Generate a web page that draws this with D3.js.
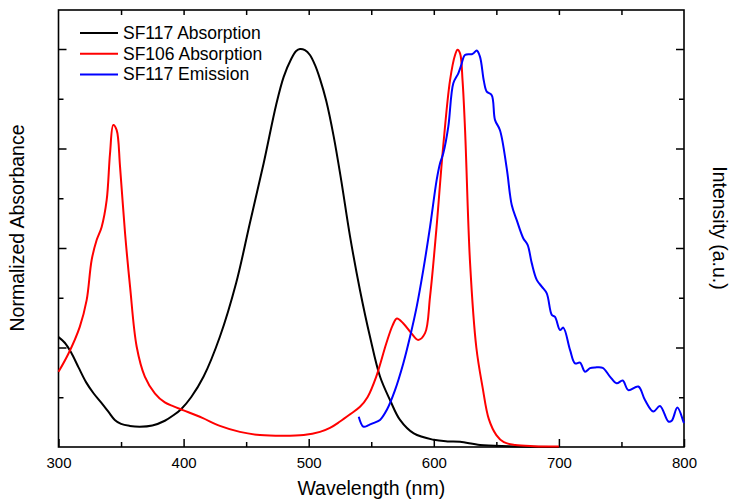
<!DOCTYPE html>
<html>
<head>
<meta charset="utf-8">
<script src="https://cdn.jsdelivr.net/npm/d3@7"></script>
<style>
  html, body { margin: 0; padding: 0; background: #fff; }
  svg { display: block; font-family: "Liberation Sans", Arial, sans-serif; }
  .tick line { stroke: #000; stroke-width: 1.5; }
</style>
</head>
<body>
<svg id="chart" width="734" height="499"></svg>
<script>
// Wavelength grid of tick labels (nm)
const xMajorTicks = [300, 400, 500, 600, 700, 800];
const xMinorTicks = [350, 450, 550, 650, 750];
const yMajorTicks = [0.25, 0.5, 0.75, 1.0];
const yMinorTicks = [0.125, 0.375, 0.625, 0.875];

// SF117 absorption spectrum: wavelength (nm), normalized absorbance
const sf117AbsWl = [300, 305, 310, 316, 322, 328, 334, 340, 345, 350, 357, 365, 375, 385, 392, 398, 406, 416, 429, 442, 453, 464, 474, 480, 486, 490, 493, 497, 501, 505, 509, 514, 520, 526, 533, 541, 549, 557, 565, 573, 584, 600, 611, 621, 637, 660, 700];
const sf117AbsVal = [0.276, 0.262, 0.238, 0.200, 0.163, 0.135, 0.112, 0.088, 0.068, 0.058, 0.053, 0.051, 0.054, 0.066, 0.080, 0.095, 0.125, 0.177, 0.277, 0.412, 0.563, 0.713, 0.86, 0.93, 0.975, 0.995, 1.0, 0.997, 0.985, 0.96, 0.925, 0.87, 0.78, 0.67, 0.53, 0.394, 0.277, 0.177, 0.118, 0.068, 0.034, 0.018, 0.014, 0.013, 0.005, 0.002, 0.0];

// SF106 absorption spectrum
const sf106AbsWl = [300, 308, 317, 322.5, 326.5, 330.5, 334.5, 338.5, 341.2, 343.8, 346.5, 349.2, 353.2, 357.2, 362.5, 369, 377, 385, 392, 400, 415, 429, 445, 461, 480, 496, 509, 517, 525, 533, 541, 547, 554, 562, 567, 570.5, 575.5, 582, 587.5, 593, 597, 602, 607.5, 613, 617, 619, 621, 623, 625, 629, 634, 639, 644, 650, 656, 665, 680, 700];
const sf106AbsVal = [0.189, 0.235, 0.302, 0.369, 0.47, 0.52, 0.553, 0.62, 0.738, 0.809, 0.796, 0.704, 0.537, 0.403, 0.252, 0.177, 0.135, 0.112, 0.102, 0.092, 0.073, 0.053, 0.038, 0.030, 0.028, 0.030, 0.038, 0.048, 0.064, 0.082, 0.101, 0.125, 0.177, 0.26, 0.305, 0.323, 0.311, 0.286, 0.269, 0.286, 0.378, 0.545, 0.755, 0.922, 0.985, 0.998, 0.989, 0.92, 0.796, 0.462, 0.25, 0.15, 0.07, 0.03, 0.012, 0.005, 0.002, 0.001];

// SF117 emission spectrum (intensity, right axis)
const sf117EmWl = [540, 543.7, 548, 551.6, 557, 562.4, 569, 575.6, 581, 586.3, 591.6, 597, 602.3, 605, 607.6, 611.6, 615.6, 619.6, 622, 624.9, 630.3, 632, 634.3, 636.9, 640, 642.3, 646.3, 648.9, 652.9, 658.3, 662.3, 666.3, 671.6, 675, 678.3, 682.3, 686.3, 690.3, 694.3, 696.9, 700.9, 703.5, 708.9, 712.9, 716.9, 720.9, 724.9, 729, 735, 740.8, 746.2, 751, 755.5, 763.5, 768.8, 775.5, 780.8, 787.5, 790.2, 794.7, 799.5, 800];
const sf117EmVal = [0.076, 0.051, 0.055, 0.060, 0.068, 0.093, 0.143, 0.210, 0.277, 0.352, 0.445, 0.553, 0.671, 0.713, 0.738, 0.805, 0.914, 0.939, 0.96, 0.985, 0.987, 0.99, 0.996, 0.981, 0.92, 0.893, 0.884, 0.822, 0.796, 0.70, 0.608, 0.570, 0.524, 0.508, 0.462, 0.420, 0.403, 0.386, 0.332, 0.327, 0.294, 0.300, 0.244, 0.210, 0.212, 0.189, 0.198, 0.200, 0.199, 0.177, 0.160, 0.167, 0.143, 0.152, 0.118, 0.089, 0.103, 0.064, 0.066, 0.099, 0.064, 0.06];

const seriesNames = ["SF117 Absorption", "SF106 Absorption", "SF117 Emission"];
const seriesColors = ["#000000", "#ff0000", "#0000ff"];

const svg = d3.select("#chart");
const plotL = 58.5, plotR = 684, plotT = 10, plotB = 447;

const x = d3.scaleLinear().domain([300, 800]).range([plotL, plotR]);
const yAbs = d3.scaleLinear().domain([0, 1.098]).range([plotB, plotT]);
const yEm = d3.scaleLinear().domain([0, 1.098]).range([plotB, plotT]);

// Axes (ticks point inward)
svg.append("g").attr("transform", `translate(0,${plotB})`)
  .call(d3.axisBottom(x).tickValues(xMajorTicks).tickSizeInner(-8).tickSizeOuter(0).tickPadding(10).tickFormat(d3.format("d")))
  .call(g => g.select(".domain").remove())
  .call(g => g.selectAll("text").attr("font-size", 15).attr("fill", "#000").attr("font-family", "Liberation Sans, Arial, sans-serif"));
svg.append("g").attr("transform", `translate(0,${plotB})`)
  .call(d3.axisBottom(x).tickValues(xMinorTicks).tickSizeInner(-5).tickSizeOuter(0).tickFormat(""))
  .call(g => g.select(".domain").remove());
svg.append("g").attr("transform", `translate(0,${plotT})`)
  .call(d3.axisTop(x).tickValues(xMinorTicks.concat(xMajorTicks.slice(1, -1))).tickSizeInner(-5).tickSizeOuter(0).tickFormat(""))
  .call(g => g.select(".domain").remove());
svg.append("g").attr("transform", `translate(${plotL},0)`)
  .call(d3.axisLeft(yAbs).tickValues(yMajorTicks).tickSizeInner(-8).tickSizeOuter(0).tickFormat(""))
  .call(g => g.select(".domain").remove());
svg.append("g").attr("transform", `translate(${plotL},0)`)
  .call(d3.axisLeft(yAbs).tickValues(yMinorTicks).tickSizeInner(-5).tickSizeOuter(0).tickFormat(""))
  .call(g => g.select(".domain").remove());
svg.append("g").attr("transform", `translate(${plotR},0)`)
  .call(d3.axisRight(yEm).tickValues(yMajorTicks).tickSizeInner(-8).tickSizeOuter(0).tickFormat(""))
  .call(g => g.select(".domain").remove());
svg.append("g").attr("transform", `translate(${plotR},0)`)
  .call(d3.axisRight(yEm).tickValues(yMinorTicks).tickSizeInner(-5).tickSizeOuter(0).tickFormat(""))
  .call(g => g.select(".domain").remove());

// Plot frame
svg.append("rect")
  .attr("x", plotL).attr("y", plotT)
  .attr("width", plotR - plotL).attr("height", plotB - plotT)
  .attr("fill", "none").attr("stroke", "#000").attr("stroke-width", 1.6);

// Spectra
const curve = d3.curveCatmullRom.alpha(0.5);
const lineAbs = d3.line().x(d => x(d[0])).y(d => yAbs(d[1])).curve(curve);
const lineEm = d3.line().x(d => x(d[0])).y(d => yEm(d[1])).curve(curve);

const spectra = [
  { wl: sf117AbsWl, val: sf117AbsVal, line: lineAbs, color: seriesColors[0] },
  { wl: sf106AbsWl, val: sf106AbsVal, line: lineAbs, color: seriesColors[1] },
  { wl: sf117EmWl, val: sf117EmVal, line: lineEm, color: seriesColors[2] }
];
spectra.forEach(s => {
  svg.append("path")
    .datum(d3.zip(s.wl, s.val))
    .attr("fill", "none")
    .attr("stroke", s.color)
    .attr("stroke-width", 2)
    .attr("stroke-linejoin", "round")
    .attr("d", s.line);
});

// Legend
const legend = svg.append("g").attr("transform", "translate(80,33)");
seriesNames.forEach((name, i) => {
  const row = legend.append("g").attr("transform", `translate(0,${i * 20.7})`);
  row.append("line").attr("x1", 0).attr("x2", 38).attr("y1", 0).attr("y2", 0)
    .attr("stroke", seriesColors[i]).attr("stroke-width", 2);
  row.append("text").attr("x", 43).attr("y", 6)
    .attr("font-size", 17.5).attr("fill", "#000").text(name);
});

// Axis titles
svg.append("text")
  .attr("x", (plotL + plotR) / 2).attr("y", 495)
  .attr("text-anchor", "middle").attr("font-size", 19.5).attr("fill", "#000")
  .text("Wavelength (nm)");
svg.append("text")
  .attr("transform", "translate(24,228) rotate(-90)")
  .attr("text-anchor", "middle").attr("font-size", 19.5).attr("fill", "#000")
  .text("Normalized Absorbance");
svg.append("text")
  .attr("transform", "translate(713,228) rotate(90)")
  .attr("text-anchor", "middle").attr("font-size", 19.5).attr("fill", "#000")
  .text("Intensity (a.u.)");
</script>
</body>
</html>
